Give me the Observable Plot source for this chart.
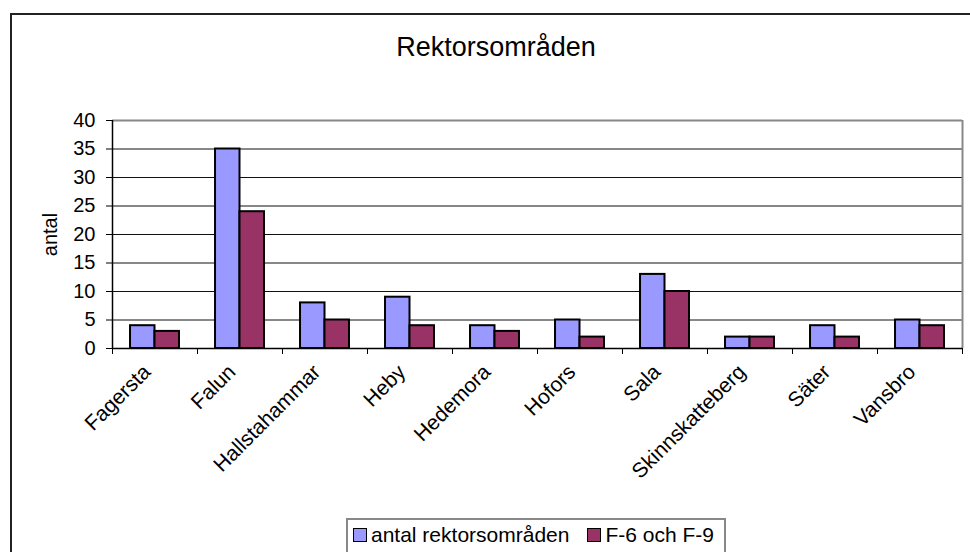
<!DOCTYPE html>
<html>
<head>
<meta charset="utf-8">
<script src="https://cdn.jsdelivr.net/npm/d3@7"></script>
<script src="https://cdn.jsdelivr.net/npm/@observablehq/plot@0.6"></script>
<style>
  html, body { margin: 0; padding: 0; background: #fff; }
  #wrap { position: relative; width: 970px; height: 552px; overflow: hidden; background: #fff;
          font-family: "Liberation Sans", Arial, sans-serif; color: #000; }
  #outer { position: absolute; left: 10px; top: 13px; width: 1000px; height: 600px; border: 2px solid #222; }
  #title { position: absolute; left: 296px; width: 400px; top: 34px; text-align: center; font-size: 27px; line-height: 27px; }
  #chart { position: absolute; left: 0; top: 0; }
  #legend { position: absolute; left: 346px; top: 518px; width: 376px; height: 40px; border: 2px solid #888;
            background: #fff; box-sizing: content-box; }
  #legend .row { display: flex; align-items: center; height: 21px; margin-top: 4px; padding-left: 5px;
                 font-size: 21px; line-height: 21px; white-space: nowrap; }
  #legend .sw { width: 12px; height: 12px; border: 1.5px solid #000; margin-right: 4px; flex: none; }
  #legend .item { display: flex; align-items: center; margin-right: 18px; }
</style>
</head>
<body>
<div id="wrap">
  <div id="outer"></div>
  <div id="title"></div>
  <div id="chart"></div>
  <div id="legend"><div class="row"></div></div>
</div>
<script>
const title = "Rektorsområden";
const yLabel = "antal";
const categories = ["Fagersta", "Falun", "Hallstahammar", "Heby", "Hedemora", "Hofors", "Sala", "Skinnskatteberg", "Säter", "Vansbro"];
const seriesNames = ["antal rektorsområden", "F-6 och F-9"];
const antalRektorsomraden = [4, 35, 8, 9, 4, 5, 13, 2, 4, 5];
const f6ochF9 = [3, 24, 5, 4, 3, 2, 10, 2, 2, 4];
const seriesColors = ["#9999FF", "#993366"];
const yTicks = [0, 5, 10, 15, 20, 25, 30, 35, 40];
const yMax = 40;

const seriesValues = [antalRektorsomraden, f6ochF9];
const groupFrac = 0.576; // fraction of each category band used by the bar pair
const n = categories.length;
const data = [];
categories.forEach((c, i) => {
  seriesValues.forEach((vals, s) => {
    data.push({category: c, i, s, series: seriesNames[s], value: vals[i]});
  });
});
const half = groupFrac / 2;

document.getElementById("title").textContent = title;

const chart = Plot.plot({
  width: 970,
  height: 552,
  marginTop: 120,
  marginBottom: 204,
  marginLeft: 112,
  marginRight: 8,
  style: {fontFamily: "'Liberation Sans', Arial, sans-serif", fontSize: "20px", color: "#000", background: "transparent", overflow: "visible"},
  x: {type: "linear", domain: [0, n], axis: null},
  y: {domain: [0, yMax], axis: null},
  color: {domain: seriesNames, range: seriesColors},
  marks: [
    Plot.ruleY(yTicks.filter(v => v > 0 && v < yMax), {stroke: "#111", strokeWidth: 1}),
    Plot.ruleY([yMax], {stroke: "#888", strokeWidth: 2}),
    Plot.ruleX([n], {stroke: "#888", strokeWidth: 2}),
    Plot.rectY(data, {
      x1: d => d.i + 0.5 - half + d.s * half,
      x2: d => d.i + 0.5 + d.s * half,
      y: "value",
      fill: "series",
      stroke: "#000",
      strokeWidth: 2
    }),
    Plot.ruleY([0], {stroke: "#000", strokeWidth: 1.5}),
    Plot.ruleX([0], {stroke: "#000", strokeWidth: 1.5}),
    Plot.axisY({ticks: yTicks, tickSize: 6, tickPadding: 11, fontSize: 20, label: null}),
    Plot.text([yLabel], {frameAnchor: "left", textAnchor: "middle", rotate: -90, dx: -62, fontSize: 20}),
    Plot.axisX({ticks: d3.range(0, n + 1), tickSize: 6, tickFormat: () => "", label: null}),
    Plot.axisX({
      ticks: categories.map((c, i) => i + 0.5),
      tickFormat: v => categories[Math.floor(v)],
      tickSize: 0,
      tickPadding: 20,
      tickRotate: -45,
      dx: -8,
      fontSize: 21,
      label: null
    })
  ]
});
document.getElementById("chart").appendChild(chart);

const row = document.querySelector("#legend .row");
seriesNames.forEach((name, k) => {
  const item = document.createElement("div");
  item.className = "item";
  const sw = document.createElement("div");
  sw.className = "sw";
  sw.style.background = seriesColors[k];
  const t = document.createElement("span");
  t.textContent = name;
  item.appendChild(sw);
  item.appendChild(t);
  row.appendChild(item);
});
</script>
</body>
</html>
